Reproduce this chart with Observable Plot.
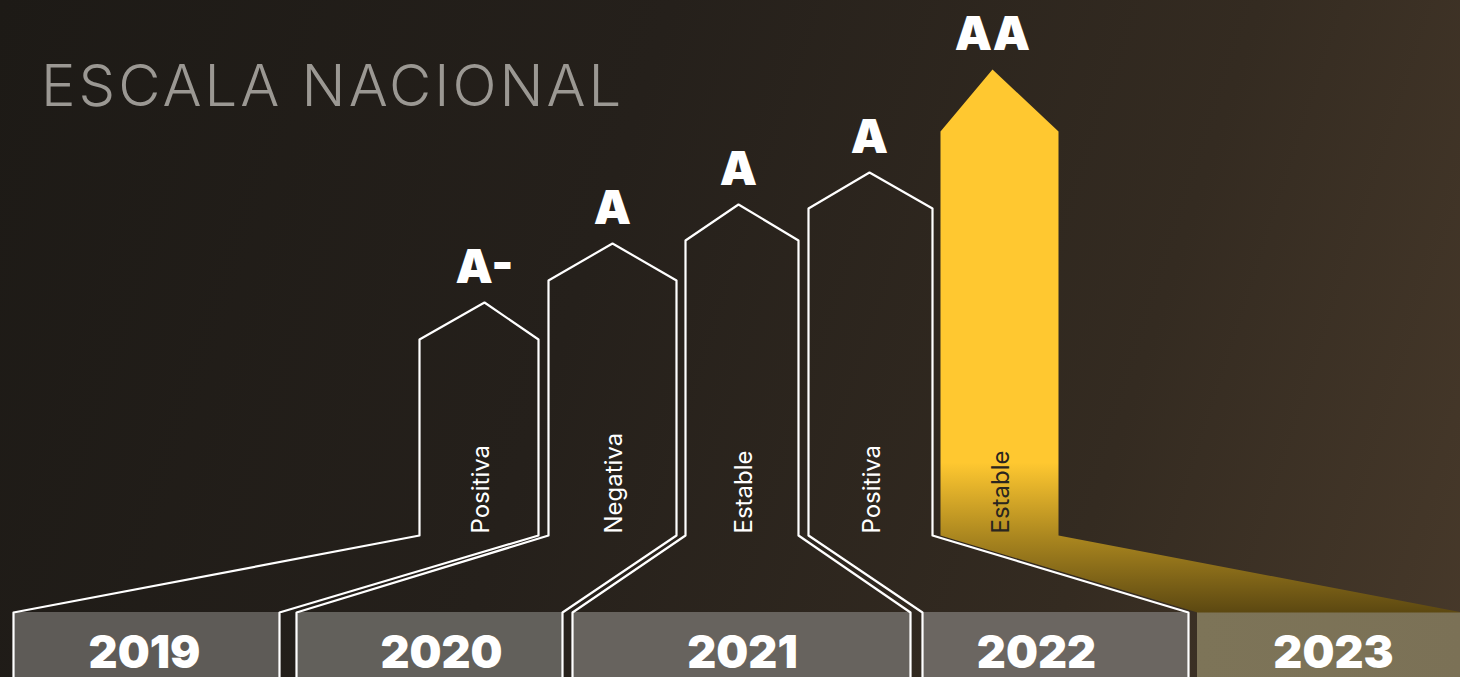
<!DOCTYPE html>
<html>
<head>
<meta charset="utf-8">
<script src="https://cdn.jsdelivr.net/npm/d3@7"></script>
<script src="https://cdn.jsdelivr.net/npm/@observablehq/plot@0.6"></script>
<style>
  html, body { margin: 0; padding: 0; }
  body {
    width: 1460px; height: 677px; overflow: hidden;
    background: linear-gradient(108deg, #1d1a16 0%, #25201b 40%, #342b21 75%, #47392a 100%);
    font-family: Inter, "Noto Sans", sans-serif;
  }
  #wrap { position: relative; width: 1460px; height: 677px; }
  #title {
    position: absolute; left: 41px; top: 50px; margin: 0;
    font-family: Inter, sans-serif; font-weight: 300; font-size: 58px;
    line-height: normal; letter-spacing: 3px; color: #9b9893; white-space: nowrap;
  }
  #chart svg { display: block; }
</style>
</head>
<body>
<div id="wrap">
  <div id="chart"></div>
  <h1 id="title">ESCALA NACIONAL</h1>
</div>
<script>
// ---- data ----
const years = ["2019", "2020", "2021", "2022", "2023"];
const ratings = ["A-", "A", "A", "A", "AA"];
const outlooks = ["Positiva", "Negativa", "Estable", "Positiva", "Estable"];
const shoulderHeights = [196, 255, 295, 327, 404];
const peakHeights = [233, 292, 331, 363, 466];

// ---- layout (pixel positions of the columns) ----
const houseLeft = [419, 548, 685, 808, 940];
const houseRight = [538, 676, 798, 932, 1058];
const peakX = [484, 612, 738, 869, 992];
const boxLeft = [13, 296, 572, 922, 1197];
const boxRight = [279, 562, 910, 1188, 1462];
const yearLabelX = [144, 441, 742, 1036, 1333];
const boxTop = -77, boxBottom = -145, base = 0;
const boxFills = ["#5e5b57", "#62605b", "#67635e", "#6b6661", "url(#boxGold)"];

const idx = d3.range(years.length);

// box rectangles
const boxes = idx.map(i => ({x1: boxLeft[i], x2: boxRight[i], fill: boxFills[i]}));

// white outlines (first four years)
const outlines = [];
idx.slice(0, 4).forEach(i => {
  const pts = [
    [boxLeft[i], boxBottom], [boxLeft[i], boxTop], [houseLeft[i], base],
    [houseLeft[i], shoulderHeights[i]], [peakX[i], peakHeights[i]],
    [houseRight[i], shoulderHeights[i]], [houseRight[i], base],
    [boxRight[i], boxTop], [boxRight[i], boxBottom]
  ];
  pts.forEach(([x, y]) => outlines.push({year: years[i], x, y}));
});

// yellow arrow (last year)
const k = 4;
const gold = [
  [boxLeft[k], boxTop], [houseLeft[k], base], [houseLeft[k], shoulderHeights[k]],
  [peakX[k], peakHeights[k]], [houseRight[k], shoulderHeights[k]],
  [houseRight[k], base], [boxRight[k], boxTop]
].map(([x, y]) => ({x, y}));

const labels = idx.map(i => ({
  year: years[i], rating: ratings[i], outlook: outlooks[i],
  peakX: peakX[i], peak: peakHeights[i],
  mid: (houseLeft[i] + houseRight[i]) / 2,
  yearX: yearLabelX[i],
  dark: i === 4
}));

const defs = () => {
  const d = d3.create("svg:defs");
  const g = d.append("linearGradient").attr("id", "goldGrad")
    .attr("gradientUnits", "userSpaceOnUse")
    .attr("x1", 0).attr("y1", 462).attr("x2", 0).attr("y2", 612);
  g.append("stop").attr("offset", 0).attr("stop-color", "#ffc830");
  g.append("stop").attr("offset", 0.5).attr("stop-color", "#aa861f");
  g.append("stop").attr("offset", 1).attr("stop-color", "#5c4811");
  const b = d.append("linearGradient").attr("id", "boxGold")
    .attr("x1", 0).attr("y1", 0).attr("x2", 1).attr("y2", 0);
  b.append("stop").attr("offset", 0).attr("stop-color", "#7d7458");
  b.append("stop").attr("offset", 1).attr("stop-color", "#7b7156");
  return d.node();
};

const chart = Plot.plot({
  width: 1460,
  height: 677,
  margin: 0,
  style: {background: "transparent", overflow: "visible"},
  x: {domain: [0, 1460], axis: null},
  y: {domain: [-142, 535], range: [677, 0], axis: null},
  color: {type: "identity"},
  marks: [
    defs,
    Plot.rect(boxes, {x1: "x1", x2: "x2", y1: boxTop, y2: boxBottom, fill: "fill"}),
    Plot.line(gold, {x: "x", y: "y", fill: "url(#goldGrad)", stroke: "none", curve: "linear-closed"}),
    Plot.line(outlines, {x: "x", y: "y", z: "year", stroke: "#ffffff", strokeWidth: 2.2, fill: "none"}),
    Plot.text(labels, {
      x: "peakX", y: d => d.peak + 20, text: "rating", fill: "#ffffff",
      fontSize: 47, fontWeight: 900, lineAnchor: "bottom", textAnchor: "middle",
      fontFamily: "Inter, sans-serif"
    }),
    Plot.text(labels, {
      x: d => d.mid + 2, y: 2, text: "outlook", rotate: -90,
      fill: d => d.dark ? "#2a251f" : "#ffffff",
      fontSize: 24, fontWeight: 400, textAnchor: "start", lineAnchor: "middle",
      fontFamily: "Inter, sans-serif"
    }),
    Plot.text(labels, {
      x: "yearX", y: -132, text: "year", fill: "#ffffff",
      fontSize: 45, fontWeight: 900, lineAnchor: "bottom", textAnchor: "middle",
      fontFamily: "Inter, sans-serif"
    })
  ]
});
document.getElementById("chart").appendChild(chart);
</script>
</body>
</html>
